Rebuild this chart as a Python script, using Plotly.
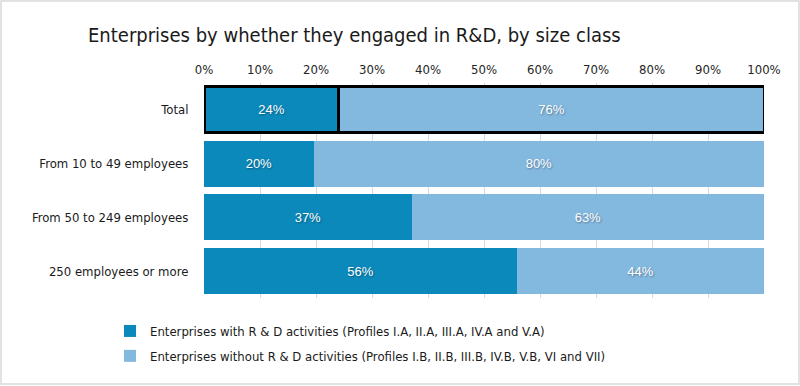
import plotly.graph_objects as go

# listed bottom-to-top (Plotly category axis draws the first one at the bottom)
categories = ["250 employees or more", "From 50 to 249 employees", "From 10 to 49 employees", "Total"]
with_rd = [55.9, 37.1, 19.6, 24.1]
without_rd = [44.1, 62.9, 80.4, 75.9]
series_names = [
    "Enterprises with R & D activities (Profiles I.A, II.A, III.A, IV.A and V.A)",
    "Enterprises without R & D activities (Profiles I.B, II.B, III.B, IV.B, V.B, VI and VII)",
]
tick_vals = [0, 10, 20, 30, 40, 50, 60, 70, 80, 90, 100]
tick_text = [f"{v}%" for v in tick_vals]

FONT = "DejaVu Sans Condensed, Liberation Sans Narrow, sans-serif"
colors = ["#0C89BB", "#83B8DF"]
line_w = [3 if c == "Total" else 0 for c in categories]

fig = go.Figure()
for name, vals, col, grp in zip(series_names, [with_rd, without_rd], colors, ["a", "b"]):
    fig.add_trace(go.Bar(
        y=categories, x=vals, orientation="h", name=name, legendgroup=grp,
        marker=dict(color=col, line=dict(color="#000000", width=line_w)),
        width=0.86,
        text=vals, texttemplate="%{x:.0f}%", textposition="inside",
        insidetextanchor="middle",
        textfont=dict(color="white", size=13, family="Arial, Liberation Sans, sans-serif",
                      shadow="1px 1px 2px rgba(0,0,0,0.35)"),
        hoverinfo="skip",
    ))

W, H = 800, 386
L, R, T, B = 204, 36, 83, 88
pw, ph = W - L - R, H - T - B

def px_x(px):
    return (px - L) / pw

def px_y(py):
    return (H - B - py) / ph

fig.update_layout(
    width=W, height=H,
    barmode="stack",
    margin=dict(l=L, r=R, t=T, b=B, autoexpand=False),
    paper_bgcolor="white", plot_bgcolor="white",
    font=dict(family=FONT, color="#262626", size=13),
    title=dict(text="Enterprises by whether they engaged in R&D, by size class",
               font=dict(family=FONT, size=20, color="#1a1a1a"),
               xref="container", x=88 / W, xanchor="left",
               yref="container", y=1 - 35 / H, yanchor="middle"),
    xaxis=dict(range=[0, 100], side="top", tickvals=tick_vals, ticktext=tick_text,
               showgrid=True, gridcolor="#D9D9D9", gridwidth=1, zeroline=False,
               showline=False, ticks="outside", ticklen=3, tickcolor="rgba(0,0,0,0)",
               tickfont=dict(size=13, color="#262626"),
               automargin=False, fixedrange=True),
    yaxis=dict(categoryorder="array", categoryarray=categories,
               range=[-0.5, 3.5],
               showgrid=False, showline=False, ticks="outside", ticklen=12,
               tickcolor="rgba(0,0,0,0)", tickfont=dict(size=13, color="#1a1a1a"),
               automargin=False, fixedrange=True),
    showlegend=True,
    legend=dict(x=px_x(110), xanchor="left", y=px_y(316), yanchor="top",
                orientation="v", traceorder="grouped", tracegroupgap=5,
                font=dict(size=13, color="#1a1a1a"), itemwidth=30,
                bgcolor="rgba(0,0,0,0)"),
    shapes=[dict(type="rect", xref="paper", yref="paper",
                 x0=px_x(1), x1=px_x(799), y0=px_y(384), y1=px_y(1),
                 line=dict(color="#D9D9D9", width=1.5), fillcolor="rgba(0,0,0,0)",
                 layer="above")],
)

fig.write_html("out.html", config={"displayModeBar": False},
               post_script="document.body.style.margin='0';document.body.style.overflow='hidden';")
